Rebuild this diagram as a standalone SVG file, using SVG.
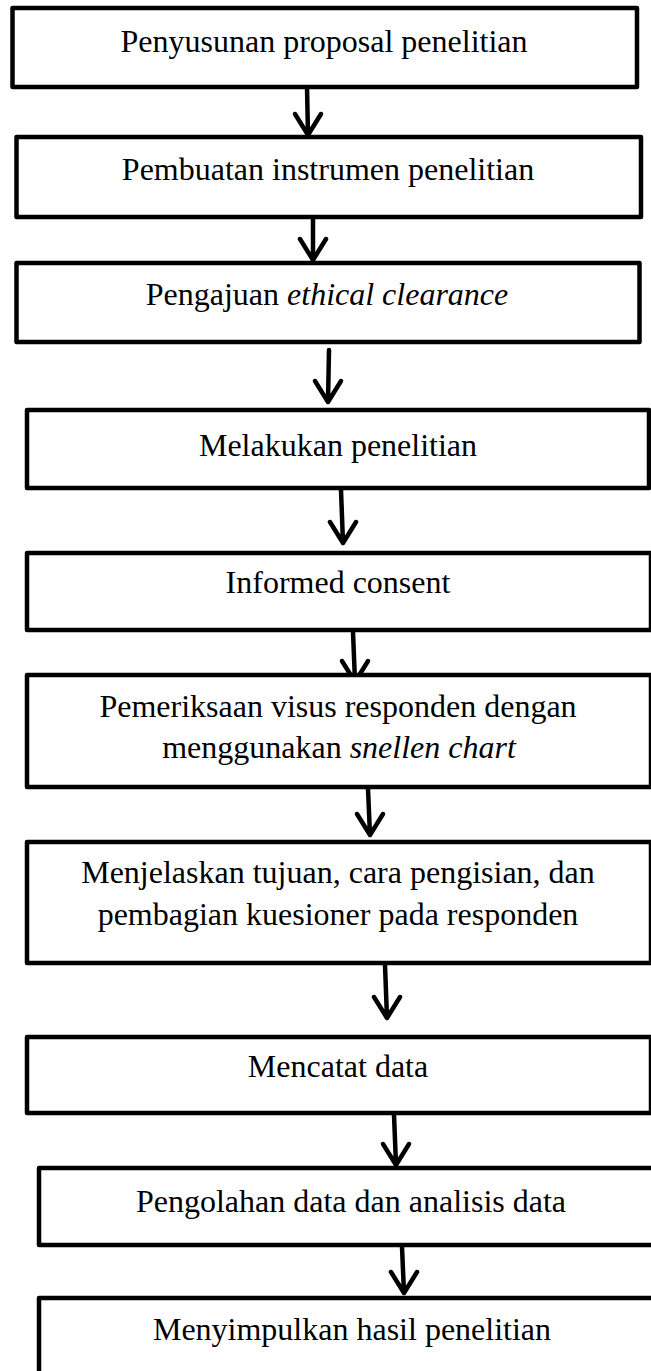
<svg xmlns="http://www.w3.org/2000/svg" width="651" height="1371" viewBox="0 0 651 1371">
<style>
.box{fill:#fff;stroke:#000;stroke-width:4.5;stroke-linejoin:round}
.t{font-family:"Liberation Serif","Times New Roman",serif;font-size:32px;fill:#000;text-anchor:middle}
.i{font-style:italic}
.c{fill:none;stroke:#000;stroke-width:4.5;stroke-linecap:round;stroke-linejoin:round}
</style>
<rect width="651" height="1371" fill="#fff"/>
<g id="connectors">
<path class="c" d="M307 87 L308 135 M295 114 L308 135 L321 114"/>
<path class="c" d="M313 217 L313 260 M300 239 L313 260 L326 239"/>
<path class="c" d="M329 350 L328 402 M315 381 L328 402 L341 381"/>
<path class="c" d="M341 490 L343 543 M330 522 L343 543 L356 522"/>
<path class="c" d="M353 632 L355 682 M342 661 L355 682 L368 661"/>
<path class="c" d="M368 789 L370 835 M357 814 L370 835 L383 814"/>
<path class="c" d="M385 965 L387 1018 M374 997 L387 1018 L400 997"/>
<path class="c" d="M394 1115 L396 1165 M383 1144 L396 1165 L409 1144"/>
<path class="c" d="M402 1247 L404 1293 M391 1272 L404 1293 L417 1272"/>
</g>
<g id="n1"><rect class="box" x="12.5" y="8" width="624.5" height="79"/><text class="t" x="324" y="52">Penyusunan proposal penelitian</text></g>
<g id="n2"><rect class="box" x="16.5" y="137" width="624.5" height="80"/><text class="t" x="328" y="180">Pembuatan instrumen penelitian</text></g>
<g id="n3"><rect class="box" x="16.5" y="263" width="623" height="79"/><text class="t" x="327" y="305">Pengajuan <tspan class="i">ethical clearance</tspan></text></g>
<g id="n4"><rect class="box" x="27" y="410" width="622" height="78"/><text class="t" x="338" y="456">Melakukan penelitian</text></g>
<g id="n5"><rect class="box" x="27" y="553" width="624" height="77"/><text class="t" x="338" y="593">Informed consent</text></g>
<g id="n6"><rect class="box" x="27" y="675" width="624" height="112"/><text class="t" x="338" y="717">Pemeriksaan visus responden dengan</text><text class="t" x="339" y="758">menggunakan <tspan class="i">snellen chart</tspan></text></g>
<g id="n7"><rect class="box" x="27" y="842" width="624" height="121"/><text class="t" x="338" y="883">Menjelaskan tujuan, cara pengisian, dan</text><text class="t" x="338" y="925">pembagian kuesioner pada responden</text></g>
<g id="n8"><rect class="box" x="27" y="1037" width="624" height="76"/><text class="t" x="338" y="1077">Mencatat data</text></g>
<g id="n9"><rect class="box" x="39" y="1168" width="630" height="77"/><text class="t" x="351" y="1212">Pengolahan data dan analisis data</text></g>
<g id="n10"><rect class="box" x="39" y="1298" width="630" height="90"/><text class="t" x="352" y="1340">Menyimpulkan hasil penelitian</text></g>
</svg>
